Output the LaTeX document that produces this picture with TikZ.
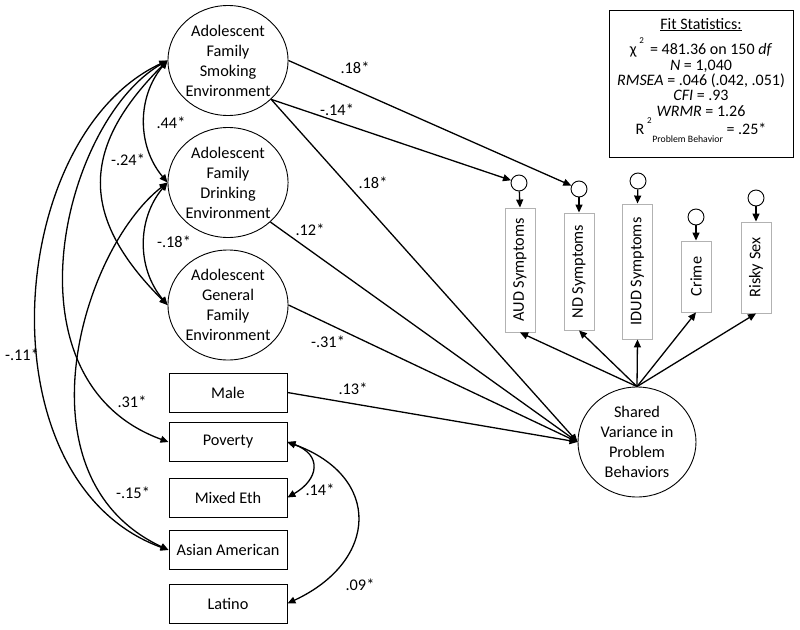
\documentclass[tikz,border=0pt]{standalone}
\usepackage{fontspec}
\setmainfont{Carlito}
\usetikzlibrary{arrows.meta,shapes.geometric}
\tikzstyle{factor} = [ellipse, draw, line width=0.9pt, minimum width=118pt, minimum height=110pt, inner sep=0pt, align=center]
\tikzstyle{obsbox} = [rectangle, draw, line width=0.9pt, minimum width=118pt, minimum height=39pt]
\tikzstyle{indbox} = [rectangle, draw=black!30, line width=0.9pt, rotate=90, minimum height=30pt, inner sep=0pt]
\tikzstyle{errc} = [circle, draw, line width=0.9pt, minimum size=16pt, inner sep=0pt]
\tikzstyle{coef} = [inner sep=0pt]
\tikzstyle{fitline} = [anchor=base, inner sep=0pt, font=\fontsize{16}{16}\selectfont]
\tikzstyle{arr} = [-{Triangle[length=8pt,width=7pt]}, line width=1.3pt]
\tikzstyle{cov} = [{Triangle[length=8pt,width=7pt]}-{Triangle[length=8pt,width=7pt]}, line width=1.3pt]

\begin{document}
\begin{tikzpicture}[x=1pt, y=1pt, font=\fontsize{16.3}{20}\selectfont]
  \useasboundingbox (0,0) rectangle (800,-629);
  \node (smk) at (228,-60.5) [factor] {Adolescent\\Family\\Smoking\\Environment};
  \node (drk) at (228,-182.5) [factor] {Adolescent\\Family\\Drinking\\Environment};
  \node (gen) at (228,-305) [factor] {Adolescent\\General\\Family\\Environment};
  \node (shr) at (637,-442) [factor] {Shared\\Variance in\\Problem\\Behaviors};
  \node (male) at (228,-392.5) [obsbox] {Male};
  \node (pov) at (228,-442) [obsbox] {Poverty};
  \node (mix) at (228,-497.5) [obsbox] {Mixed Eth};
  \node (asn) at (228,-550) [obsbox] {Asian American};
  \node (lat) at (228,-603.5) [obsbox] {Latino};
  \node (aud) at (520,-270) [indbox, minimum width=124pt] {AUD Symptoms};
  \node (nd) at (579,-271.5) [indbox, minimum width=117pt] {ND Symptoms};
  \node (idud) at (637.5,-271.5) [indbox, minimum width=135pt] {IDUD Symptoms};
  \node (crm) at (696,-276.5) [indbox, minimum width=71pt] {Crime};
  \node (rsx) at (756,-267.5) [indbox, minimum width=91pt] {Risky Sex};
  \node (raud) at (519,-183) [errc] {};
  \node (rnd) at (579,-189) [errc] {};
  \node (ridud) at (638,-181) [errc] {};
  \node (rcrm) at (696,-217) [errc] {};
  \node (rrsx) at (756,-198) [errc] {};
  \node (fit) at (701,-83.5) [draw, line width=0.9pt, minimum width=184pt, minimum height=147pt] {};
  \node (fit1) at (701,-29) [fitline] {\underline{Fit Statistics:}};
  \node (fit2) at (701,-54) [fitline] {χ\,\raisebox{1.4ex}{\fontsize{9}{9}\selectfont 2}\, = 481.36 on 150 \textit{df}};
  \node (fit3) at (701,-70) [fitline] {\textit{N} = 1,040};
  \node (fit4) at (701,-85) [fitline] {\textit{RMSEA} = .046 (.042, .051)};
  \node (fit5) at (701,-100.5) [fitline] {\textit{CFI} = .93};
  \node (fit6) at (701,-116) [fitline] {\textit{WRMR} = 1.26};
  \node (fit7) at (701,-134) [fitline] {R\rlap{\,\raisebox{1.4ex}{\fontsize{9}{9}\selectfont 2}}\hspace{0.5em}\raisebox{-1.1ex}{\fontsize{9.75}{9.75}\selectfont Problem Behavior} = .25*};
  \node (c1) at (355,-68) [coef] {.18*};
  \node (c2) at (337,-110) [coef] {-.14*};
  \node (c3) at (373,-183) [coef] {.18*};
  \node (c4) at (310,-230) [coef] {.12*};
  \node (c5) at (328,-342) [coef] {-.31*};
  \node (c6) at (353,-389) [coef] {.13*};
  \node (c7) at (171,-123) [coef] {.44*};
  \node (c8) at (128,-160) [coef] {-.24*};
  \node (c9) at (174,-242) [coef] {-.18*};
  \node (c10) at (22,-355) [coef] {-.11*};
  \node (c11) at (132,-402) [coef] {.31*};
  \node (c12) at (133,-493) [coef] {-.15*};
  \node (c13) at (320,-490) [coef] {.14*};
  \node (c14) at (360,-585) [coef] {.09*};
  \draw [arr] (smk.east) to (rnd);
  \draw [arr] (smk.-42) to (raud);
  \draw [arr] (smk.-42) to (shr.west);
  \draw [arr] (drk.-43) to (shr.west);
  \draw [arr] (gen.east) to (shr.west);
  \draw [arr] (male.east) to (shr.west);
  \draw [arr] (shr.north) to (aud.west);
  \draw [arr] (shr.north) to (nd.west);
  \draw [arr] (shr.north) to (idud.west);
  \draw [arr] (shr.north) to (crm.west);
  \draw [arr] (shr.north) to (rsx.west);
  \draw [arr] (raud) to (aud.east);
  \draw [arr] (rnd) to (nd.east);
  \draw [arr] (ridud) to (idud.east);
  \draw [arr] (rcrm) to (crm.east);
  \draw [arr] (rrsx) to (rsx.east);
  \draw [cov] (smk.west) to [out=230, in=130] (drk.west);
  \draw [cov] (drk.west) to [out=230, in=130] (gen.west);
  \draw [cov] (smk.west) to [out=225, in=135, looseness=1.3] (gen.west);
  \draw [cov] (smk.west) to [out=210, in=160, out distance=120pt, in distance=180pt] (pov.west);
  \draw [cov] (drk.west) to [out=218, in=155, out distance=110pt, in distance=170pt] (asn.west);
  \draw [cov] (smk.west) to [out=205, in=160, out distance=180pt, in distance=200pt] (asn.west);
  \draw [cov] (pov.east) to [out=-20, in=30, looseness=1.7] (mix.east);
  \draw [cov] (pov.east) to [out=-20, in=25, looseness=1.6] (lat.east);
\end{tikzpicture}
\end{document}
